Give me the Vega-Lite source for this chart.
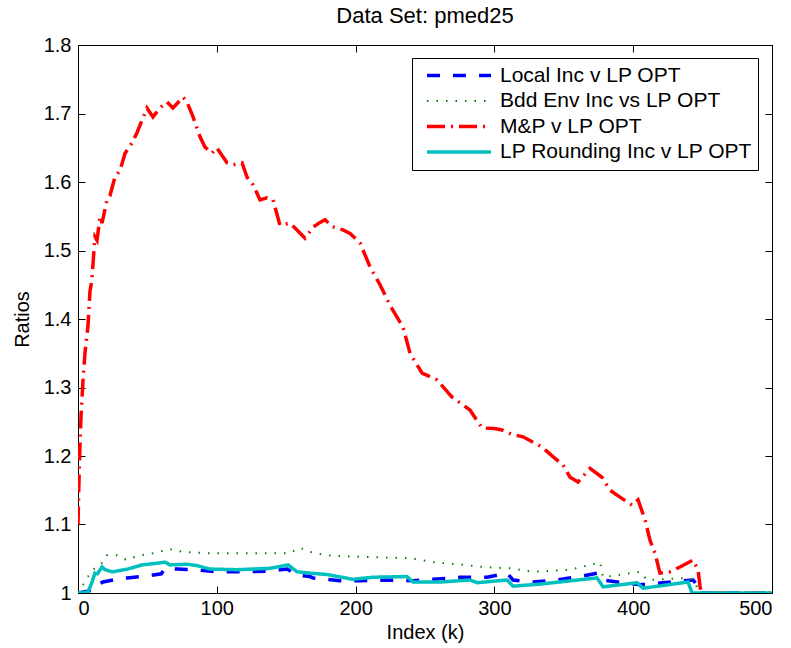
{
  "$schema": "https://vega.github.io/schema/vega-lite/v6.json",
  "width": 694,
  "height": 548,
  "autosize": "none",
  "padding": {"left": 78, "top": 45, "right": 19, "bottom": 55},
  "background": "white",
  "title": {"text": "Data Set: pmed25", "fontSize": 22, "fontWeight": "normal", "font": "Liberation Sans", "color": "black", "offset": 7},
  "config": {
    "view": {"stroke": "black", "strokeWidth": 1},
    "font": "Liberation Sans",
    "axis": {"labelFont": "Liberation Sans", "titleFont": "Liberation Sans", "labelFontSize": 20, "titleFontSize": 20, "titleFontWeight": "normal", "labelColor": "black", "titleColor": "black", "grid": false, "domain": false, "tickColor": "black", "tickSize": -7, "labelPadding": 12, "format": ".2~f"},
    "legend": {"labelFont": "Liberation Sans", "labelFontSize": 21, "labelColor": "black", "labelLimit": 400}
  },
  "data": {"values": [
    {"s": "Local Inc v LP OPT", "x": 0, "y": 1.0},
    {"s": "Local Inc v LP OPT", "x": 8, "y": 1.003},
    {"s": "Local Inc v LP OPT", "x": 10, "y": 1.01},
    {"s": "Local Inc v LP OPT", "x": 13.7, "y": 1.012},
    {"s": "Local Inc v LP OPT", "x": 18, "y": 1.016},
    {"s": "Local Inc v LP OPT", "x": 28, "y": 1.02},
    {"s": "Local Inc v LP OPT", "x": 35.3, "y": 1.022},
    {"s": "Local Inc v LP OPT", "x": 49.7, "y": 1.025},
    {"s": "Local Inc v LP OPT", "x": 60, "y": 1.028},
    {"s": "Local Inc v LP OPT", "x": 62.7, "y": 1.036},
    {"s": "Local Inc v LP OPT", "x": 71.3, "y": 1.035},
    {"s": "Local Inc v LP OPT", "x": 82.9, "y": 1.034},
    {"s": "Local Inc v LP OPT", "x": 100, "y": 1.031},
    {"s": "Local Inc v LP OPT", "x": 119, "y": 1.031},
    {"s": "Local Inc v LP OPT", "x": 138.3, "y": 1.032},
    {"s": "Local Inc v LP OPT", "x": 150.6, "y": 1.035},
    {"s": "Local Inc v LP OPT", "x": 157.8, "y": 1.026},
    {"s": "Local Inc v LP OPT", "x": 167, "y": 1.024},
    {"s": "Local Inc v LP OPT", "x": 169.3, "y": 1.022},
    {"s": "Local Inc v LP OPT", "x": 188.8, "y": 1.018},
    {"s": "Local Inc v LP OPT", "x": 203.2, "y": 1.018},
    {"s": "Local Inc v LP OPT", "x": 222.6, "y": 1.019},
    {"s": "Local Inc v LP OPT", "x": 241.4, "y": 1.018},
    {"s": "Local Inc v LP OPT", "x": 255.8, "y": 1.02},
    {"s": "Local Inc v LP OPT", "x": 275.2, "y": 1.023},
    {"s": "Local Inc v LP OPT", "x": 294.7, "y": 1.023},
    {"s": "Local Inc v LP OPT", "x": 309.1, "y": 1.029},
    {"s": "Local Inc v LP OPT", "x": 313.4, "y": 1.019},
    {"s": "Local Inc v LP OPT", "x": 327.8, "y": 1.016},
    {"s": "Local Inc v LP OPT", "x": 345.1, "y": 1.019},
    {"s": "Local Inc v LP OPT", "x": 363.9, "y": 1.025},
    {"s": "Local Inc v LP OPT", "x": 373.9, "y": 1.029},
    {"s": "Local Inc v LP OPT", "x": 377.5, "y": 1.019},
    {"s": "Local Inc v LP OPT", "x": 404.9, "y": 1.012},
    {"s": "Local Inc v LP OPT", "x": 443.1, "y": 1.019},
    {"s": "Local Inc v LP OPT", "x": 446, "y": 1.012},
    {"s": "Local Inc v LP OPT", "x": 447, "y": 1.0},
    {"s": "Local Inc v LP OPT", "x": 500, "y": 1.0},
    {"s": "Bdd Env Inc vs LP OPT", "x": 0, "y": 1.0},
    {"s": "Bdd Env Inc vs LP OPT", "x": 1.4, "y": 1.004},
    {"s": "Bdd Env Inc vs LP OPT", "x": 6.5, "y": 1.022},
    {"s": "Bdd Env Inc vs LP OPT", "x": 10.8, "y": 1.034},
    {"s": "Bdd Env Inc vs LP OPT", "x": 17.3, "y": 1.044},
    {"s": "Bdd Env Inc vs LP OPT", "x": 20.9, "y": 1.055},
    {"s": "Bdd Env Inc vs LP OPT", "x": 28, "y": 1.055},
    {"s": "Bdd Env Inc vs LP OPT", "x": 35.3, "y": 1.048},
    {"s": "Bdd Env Inc vs LP OPT", "x": 42.5, "y": 1.054},
    {"s": "Bdd Env Inc vs LP OPT", "x": 54, "y": 1.058},
    {"s": "Bdd Env Inc vs LP OPT", "x": 66.3, "y": 1.064},
    {"s": "Bdd Env Inc vs LP OPT", "x": 75.7, "y": 1.06},
    {"s": "Bdd Env Inc vs LP OPT", "x": 95, "y": 1.058},
    {"s": "Bdd Env Inc vs LP OPT", "x": 114.5, "y": 1.058},
    {"s": "Bdd Env Inc vs LP OPT", "x": 138.3, "y": 1.058},
    {"s": "Bdd Env Inc vs LP OPT", "x": 152, "y": 1.058},
    {"s": "Bdd Env Inc vs LP OPT", "x": 160, "y": 1.066},
    {"s": "Bdd Env Inc vs LP OPT", "x": 167, "y": 1.06},
    {"s": "Bdd Env Inc vs LP OPT", "x": 179.4, "y": 1.055},
    {"s": "Bdd Env Inc vs LP OPT", "x": 198, "y": 1.053},
    {"s": "Bdd Env Inc vs LP OPT", "x": 219.7, "y": 1.052},
    {"s": "Bdd Env Inc vs LP OPT", "x": 239.2, "y": 1.051},
    {"s": "Bdd Env Inc vs LP OPT", "x": 255.8, "y": 1.045},
    {"s": "Bdd Env Inc vs LP OPT", "x": 273, "y": 1.042},
    {"s": "Bdd Env Inc vs LP OPT", "x": 291.8, "y": 1.038},
    {"s": "Bdd Env Inc vs LP OPT", "x": 311.2, "y": 1.036},
    {"s": "Bdd Env Inc vs LP OPT", "x": 327.8, "y": 1.031},
    {"s": "Bdd Env Inc vs LP OPT", "x": 354.5, "y": 1.034},
    {"s": "Bdd Env Inc vs LP OPT", "x": 368.9, "y": 1.041},
    {"s": "Bdd Env Inc vs LP OPT", "x": 376.1, "y": 1.045},
    {"s": "Bdd Env Inc vs LP OPT", "x": 378.3, "y": 1.023},
    {"s": "Bdd Env Inc vs LP OPT", "x": 404.9, "y": 1.031},
    {"s": "Bdd Env Inc vs LP OPT", "x": 410, "y": 1.019},
    {"s": "Bdd Env Inc vs LP OPT", "x": 440, "y": 1.022},
    {"s": "Bdd Env Inc vs LP OPT", "x": 445, "y": 1.015},
    {"s": "Bdd Env Inc vs LP OPT", "x": 447, "y": 1.0},
    {"s": "Bdd Env Inc vs LP OPT", "x": 500, "y": 1.0},
    {"s": "M&P v LP OPT", "x": 0, "y": 1.10},
    {"s": "M&P v LP OPT", "x": 1, "y": 1.19},
    {"s": "M&P v LP OPT", "x": 2.2, "y": 1.26},
    {"s": "M&P v LP OPT", "x": 3.6, "y": 1.31},
    {"s": "M&P v LP OPT", "x": 5, "y": 1.35},
    {"s": "M&P v LP OPT", "x": 7.2, "y": 1.39},
    {"s": "M&P v LP OPT", "x": 8.6, "y": 1.44},
    {"s": "M&P v LP OPT", "x": 10, "y": 1.457},
    {"s": "M&P v LP OPT", "x": 10.8, "y": 1.48},
    {"s": "M&P v LP OPT", "x": 12.2, "y": 1.52},
    {"s": "M&P v LP OPT", "x": 13.7, "y": 1.515},
    {"s": "M&P v LP OPT", "x": 15.9, "y": 1.55},
    {"s": "M&P v LP OPT", "x": 17.3, "y": 1.54},
    {"s": "M&P v LP OPT", "x": 20.9, "y": 1.574},
    {"s": "M&P v LP OPT", "x": 23, "y": 1.58},
    {"s": "M&P v LP OPT", "x": 26.6, "y": 1.607},
    {"s": "M&P v LP OPT", "x": 30.3, "y": 1.617},
    {"s": "M&P v LP OPT", "x": 33.9, "y": 1.642},
    {"s": "M&P v LP OPT", "x": 38.9, "y": 1.657},
    {"s": "M&P v LP OPT", "x": 42.5, "y": 1.672},
    {"s": "M&P v LP OPT", "x": 46.1, "y": 1.69},
    {"s": "M&P v LP OPT", "x": 49.7, "y": 1.708},
    {"s": "M&P v LP OPT", "x": 54, "y": 1.695},
    {"s": "M&P v LP OPT", "x": 59, "y": 1.708},
    {"s": "M&P v LP OPT", "x": 64.1, "y": 1.717},
    {"s": "M&P v LP OPT", "x": 68.4, "y": 1.708},
    {"s": "M&P v LP OPT", "x": 75.7, "y": 1.724},
    {"s": "M&P v LP OPT", "x": 78.5, "y": 1.717},
    {"s": "M&P v LP OPT", "x": 82.9, "y": 1.695},
    {"s": "M&P v LP OPT", "x": 87.9, "y": 1.666},
    {"s": "M&P v LP OPT", "x": 91.5, "y": 1.651},
    {"s": "M&P v LP OPT", "x": 96.5, "y": 1.642},
    {"s": "M&P v LP OPT", "x": 100, "y": 1.65},
    {"s": "M&P v LP OPT", "x": 107.4, "y": 1.628},
    {"s": "M&P v LP OPT", "x": 111.7, "y": 1.625},
    {"s": "M&P v LP OPT", "x": 118.2, "y": 1.628},
    {"s": "M&P v LP OPT", "x": 121.8, "y": 1.607},
    {"s": "M&P v LP OPT", "x": 126.1, "y": 1.596},
    {"s": "M&P v LP OPT", "x": 131.1, "y": 1.574},
    {"s": "M&P v LP OPT", "x": 136.2, "y": 1.577},
    {"s": "M&P v LP OPT", "x": 140.5, "y": 1.574},
    {"s": "M&P v LP OPT", "x": 145.5, "y": 1.537},
    {"s": "M&P v LP OPT", "x": 152.7, "y": 1.54},
    {"s": "M&P v LP OPT", "x": 157.8, "y": 1.53},
    {"s": "M&P v LP OPT", "x": 163.6, "y": 1.518},
    {"s": "M&P v LP OPT", "x": 169.3, "y": 1.534},
    {"s": "M&P v LP OPT", "x": 174.4, "y": 1.541},
    {"s": "M&P v LP OPT", "x": 178, "y": 1.545},
    {"s": "M&P v LP OPT", "x": 183, "y": 1.535},
    {"s": "M&P v LP OPT", "x": 190.9, "y": 1.53},
    {"s": "M&P v LP OPT", "x": 196, "y": 1.525},
    {"s": "M&P v LP OPT", "x": 203.2, "y": 1.511},
    {"s": "M&P v LP OPT", "x": 210.4, "y": 1.476},
    {"s": "M&P v LP OPT", "x": 217.6, "y": 1.45},
    {"s": "M&P v LP OPT", "x": 224.8, "y": 1.42},
    {"s": "M&P v LP OPT", "x": 234.2, "y": 1.388},
    {"s": "M&P v LP OPT", "x": 239.2, "y": 1.35},
    {"s": "M&P v LP OPT", "x": 247.9, "y": 1.321},
    {"s": "M&P v LP OPT", "x": 258.7, "y": 1.311},
    {"s": "M&P v LP OPT", "x": 269.5, "y": 1.286},
    {"s": "M&P v LP OPT", "x": 282.4, "y": 1.267},
    {"s": "M&P v LP OPT", "x": 291.1, "y": 1.241},
    {"s": "M&P v LP OPT", "x": 300, "y": 1.24},
    {"s": "M&P v LP OPT", "x": 305.5, "y": 1.238},
    {"s": "M&P v LP OPT", "x": 312, "y": 1.232},
    {"s": "M&P v LP OPT", "x": 320.6, "y": 1.228},
    {"s": "M&P v LP OPT", "x": 334.3, "y": 1.213},
    {"s": "M&P v LP OPT", "x": 342.2, "y": 1.199},
    {"s": "M&P v LP OPT", "x": 349.4, "y": 1.187},
    {"s": "M&P v LP OPT", "x": 354.5, "y": 1.169},
    {"s": "M&P v LP OPT", "x": 360.3, "y": 1.162},
    {"s": "M&P v LP OPT", "x": 368.9, "y": 1.182},
    {"s": "M&P v LP OPT", "x": 377.5, "y": 1.169},
    {"s": "M&P v LP OPT", "x": 383.3, "y": 1.15},
    {"s": "M&P v LP OPT", "x": 390.5, "y": 1.14},
    {"s": "M&P v LP OPT", "x": 399.2, "y": 1.128},
    {"s": "M&P v LP OPT", "x": 403.5, "y": 1.136},
    {"s": "M&P v LP OPT", "x": 408.5, "y": 1.107},
    {"s": "M&P v LP OPT", "x": 412.1, "y": 1.077},
    {"s": "M&P v LP OPT", "x": 415.7, "y": 1.058},
    {"s": "M&P v LP OPT", "x": 419.3, "y": 1.029},
    {"s": "M&P v LP OPT", "x": 426.5, "y": 1.031},
    {"s": "M&P v LP OPT", "x": 433.7, "y": 1.038},
    {"s": "M&P v LP OPT", "x": 443.1, "y": 1.048},
    {"s": "M&P v LP OPT", "x": 446.7, "y": 1.034},
    {"s": "M&P v LP OPT", "x": 448.2, "y": 1.009},
    {"s": "M&P v LP OPT", "x": 449, "y": 1.0},
    {"s": "M&P v LP OPT", "x": 500, "y": 1.0},
    {"s": "LP Rounding Inc v LP OPT", "x": 0, "y": 1.0},
    {"s": "LP Rounding Inc v LP OPT", "x": 7, "y": 1.001},
    {"s": "LP Rounding Inc v LP OPT", "x": 10, "y": 1.015},
    {"s": "LP Rounding Inc v LP OPT", "x": 12.2, "y": 1.029},
    {"s": "LP Rounding Inc v LP OPT", "x": 14, "y": 1.028},
    {"s": "LP Rounding Inc v LP OPT", "x": 17.3, "y": 1.038},
    {"s": "LP Rounding Inc v LP OPT", "x": 19.5, "y": 1.034},
    {"s": "LP Rounding Inc v LP OPT", "x": 24.5, "y": 1.031},
    {"s": "LP Rounding Inc v LP OPT", "x": 28, "y": 1.032},
    {"s": "LP Rounding Inc v LP OPT", "x": 36, "y": 1.035},
    {"s": "LP Rounding Inc v LP OPT", "x": 46, "y": 1.041},
    {"s": "LP Rounding Inc v LP OPT", "x": 55, "y": 1.043},
    {"s": "LP Rounding Inc v LP OPT", "x": 62.7, "y": 1.045},
    {"s": "LP Rounding Inc v LP OPT", "x": 66.3, "y": 1.041},
    {"s": "LP Rounding Inc v LP OPT", "x": 78.5, "y": 1.042},
    {"s": "LP Rounding Inc v LP OPT", "x": 85.7, "y": 1.04},
    {"s": "LP Rounding Inc v LP OPT", "x": 95, "y": 1.035},
    {"s": "LP Rounding Inc v LP OPT", "x": 114.5, "y": 1.034},
    {"s": "LP Rounding Inc v LP OPT", "x": 138.3, "y": 1.036},
    {"s": "LP Rounding Inc v LP OPT", "x": 151.3, "y": 1.041},
    {"s": "LP Rounding Inc v LP OPT", "x": 157.8, "y": 1.031},
    {"s": "LP Rounding Inc v LP OPT", "x": 167, "y": 1.029},
    {"s": "LP Rounding Inc v LP OPT", "x": 179.4, "y": 1.027},
    {"s": "LP Rounding Inc v LP OPT", "x": 198, "y": 1.02},
    {"s": "LP Rounding Inc v LP OPT", "x": 212.5, "y": 1.023},
    {"s": "LP Rounding Inc v LP OPT", "x": 237, "y": 1.024},
    {"s": "LP Rounding Inc v LP OPT", "x": 241.4, "y": 1.016},
    {"s": "LP Rounding Inc v LP OPT", "x": 260.8, "y": 1.016},
    {"s": "LP Rounding Inc v LP OPT", "x": 282.4, "y": 1.019},
    {"s": "LP Rounding Inc v LP OPT", "x": 287.5, "y": 1.015},
    {"s": "LP Rounding Inc v LP OPT", "x": 309.1, "y": 1.019},
    {"s": "LP Rounding Inc v LP OPT", "x": 313.4, "y": 1.01},
    {"s": "LP Rounding Inc v LP OPT", "x": 332.9, "y": 1.013},
    {"s": "LP Rounding Inc v LP OPT", "x": 373.9, "y": 1.022},
    {"s": "LP Rounding Inc v LP OPT", "x": 378.3, "y": 1.009},
    {"s": "LP Rounding Inc v LP OPT", "x": 402.8, "y": 1.015},
    {"s": "LP Rounding Inc v LP OPT", "x": 407.1, "y": 1.007},
    {"s": "LP Rounding Inc v LP OPT", "x": 439.5, "y": 1.016},
    {"s": "LP Rounding Inc v LP OPT", "x": 442.4, "y": 1.0},
    {"s": "LP Rounding Inc v LP OPT", "x": 500, "y": 1.0}
  ]},
  "layer": [
    {
      "mark": {"type": "line", "clip": true},
      "encoding": {
        "x": {"field": "x", "type": "quantitative", "scale": {"domain": [0, 500], "nice": false}, "axis": {"orient": "bottom", "title": "Index (k)", "values": [0, 100, 200, 300, 400, 500], "titlePadding": 4}},
        "y": {"field": "y", "type": "quantitative", "scale": {"domain": [1, 1.8], "nice": false, "zero": false}, "axis": {"orient": "left", "title": "Ratios", "values": [1, 1.1, 1.2, 1.3, 1.4, 1.5, 1.6, 1.7, 1.8], "titlePadding": 11, "labelPadding": 14}},
        "color": {"field": "s", "type": "nominal", "sort": null, "scale": {"domain": ["Local Inc v LP OPT", "Bdd Env Inc vs LP OPT", "M&P v LP OPT", "LP Rounding Inc v LP OPT"], "range": ["#0000FF", "#008000", "#FF0000", "#00BFBF"]}, "legend": {"title": null, "orient": "none", "legendX": 334, "legendY": 13, "symbolType": "stroke", "symbolSize": 4096, "clipHeight": 25, "padding": 5, "symbolOffset": 8, "labelOffset": 7, "strokeColor": "black", "fillColor": "white", "rowPadding": 0.5}},
        "strokeDash": {"field": "s", "type": "nominal", "sort": null, "scale": {"domain": ["Local Inc v LP OPT", "Bdd Env Inc vs LP OPT", "M&P v LP OPT", "LP Rounding Inc v LP OPT"], "range": [[13, 13], [1.5, 8], [18, 6, 2, 6], [1, 0]]}, "legend": {"title": null, "orient": "none", "legendX": 334, "legendY": 13, "symbolType": "stroke", "symbolSize": 4096, "clipHeight": 25, "padding": 5, "symbolOffset": 8, "labelOffset": 7, "strokeColor": "black", "fillColor": "white", "rowPadding": 0.5}},
        "strokeWidth": {"field": "s", "type": "ordinal", "sort": null, "scale": {"type": "ordinal", "domain": ["Local Inc v LP OPT", "Bdd Env Inc vs LP OPT", "M&P v LP OPT", "LP Rounding Inc v LP OPT"], "range": [3.5, 2, 3.5, 3.5]}, "legend": {"title": null, "orient": "none", "legendX": 334, "legendY": 13, "symbolType": "stroke", "symbolSize": 4096, "clipHeight": 25, "padding": 5, "symbolOffset": 8, "labelOffset": 7, "strokeColor": "black", "fillColor": "white", "rowPadding": 0.5}}
      }
    },
    {
      "mark": {"type": "point", "opacity": 0},
      "encoding": {
        "x": {"field": "x", "type": "quantitative", "scale": {"domain": [0, 500], "nice": false}, "axis": {"orient": "top", "title": null, "labels": false, "values": [0, 100, 200, 300, 400, 500]}},
        "y": {"field": "y", "type": "quantitative", "scale": {"domain": [1, 1.8], "nice": false, "zero": false}, "axis": {"orient": "right", "title": null, "labels": false, "values": [1, 1.1, 1.2, 1.3, 1.4, 1.5, 1.6, 1.7, 1.8]}}
      }
    }
  ],
  "resolve": {"axis": {"x": "independent", "y": "independent"}}
}
